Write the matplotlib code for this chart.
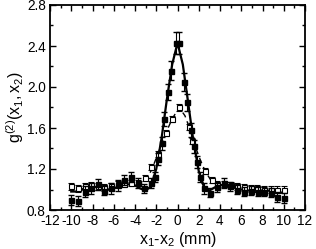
import numpy as np
import matplotlib
matplotlib.use("Agg")
from matplotlib import pyplot as plt
from matplotlib.ticker import MultipleLocator

plt.rcParams["font.family"] = ["Liberation Sans", "DejaVu Sans"]
plt.rcParams["mathtext.fontset"] = "custom"
plt.rcParams["mathtext.rm"] = "Liberation Sans"
plt.rcParams["mathtext.it"] = "Liberation Sans"

# filled squares (measured)
filled_x = [-10.0, -9.375, -8.75, -8.125, -7.5, -6.875, -6.25, -5.625, -5.0, -4.375,
            -3.75, -3.125, -2.5, -2.1, -1.8, -1.5, -1.25, -0.92, -0.61, -0.15,
            0.15, 0.6, 0.9, 1.23, 1.55, 1.85, 2.15, 2.5, 3.1, 3.7, 4.4, 4.9,
            5.6, 6.3, 6.9, 7.55, 8.15, 8.8, 9.4, 10.0]
filled_y = [0.90, 0.89, 0.98, 1.01, 1.05, 0.99, 1.01, 1.04, 1.09, 1.12,
            1.06, 1.01, 1.06, 1.12, 1.30, 1.45, 1.69, 1.95, 2.16, 2.43,
            2.43, 2.05, 1.85, 1.58, 1.42, 1.27, 1.12, 1.01, 0.97, 1.02, 1.06, 1.03,
            1.00, 0.98, 0.99, 0.98, 0.98, 0.97, 0.93, 0.92]
filled_err = [0.05, 0.05, 0.05, 0.05, 0.05, 0.04, 0.05, 0.05, 0.05, 0.05,
              0.05, 0.04, 0.05, 0.05, 0.06, 0.06, 0.07, 0.08, 0.09, 0.11,
              0.11, 0.09, 0.08, 0.07, 0.06, 0.06, 0.05, 0.05, 0.04, 0.04, 0.05, 0.04,
              0.04, 0.04, 0.04, 0.04, 0.04, 0.04, 0.05, 0.05]

# open squares
open_x = [-10.0, -9.375, -8.75, -8.125, -7.5, -6.875, -6.25, -5.625, -5.0, -4.375,
          -3.75, -3.05, -2.45, -1.8, -1.08, -0.52, 0.16, 1.1, 1.35, 2.62,
          3.2, 3.75, 4.4, 5.0, 5.6, 6.25, 6.9, 7.5, 8.15, 8.8, 9.4, 10.0]
open_y = [1.03, 1.01, 1.03, 1.04, 1.03, 1.02, 1.03, 1.05, 1.05, 1.06,
          1.06, 1.11, 1.22, 1.35, 1.55, 1.69, 1.80, 1.61, 1.47, 1.18,
          1.09, 1.05, 1.05, 1.04, 1.03, 1.02, 1.01, 1.01, 1.00, 1.00, 1.00, 1.00]
open_err = [0.03] * len(open_x)

# solid curve
line_x = [-10, -9.5, -9, -8.5, -8, -7.5, -7, -6.5, -6, -5.5, -5, -4.5, -4, -3.5,
          -3, -2.5, -2, -1.5, -1, -0.5, 0, 0.5, 1, 1.5, 2, 2.5, 3, 3.5, 4, 4.5,
          5, 5.5, 6, 6.5, 7, 7.5, 8, 8.5, 9, 9.5, 10]
line_y = [0.98, 0.98, 1.00, 1.02, 1.03, 1.02, 1.01, 1.00, 1.01, 1.03, 1.05, 1.05, 1.04, 1.01,
          0.99, 1.03, 1.20, 1.50, 1.88, 2.22, 2.43, 2.22, 1.85, 1.47, 1.18, 1.02, 0.99, 1.02, 1.04, 1.05,
          1.04, 1.02, 1.00, 0.99, 0.99, 0.99, 0.99, 0.99, 0.98, 0.97, 0.97]

# dashed curve through the open squares near the centre
dash_x = [-3.0, -2.4, -1.8, -1.1, -0.5, 0.16, 0.7, 1.2, 1.6, 2.1, 2.6, 3.2]
dash_y = [1.08, 1.20, 1.36, 1.55, 1.69, 1.80, 1.72, 1.58, 1.44, 1.30, 1.18, 1.08]

fig = plt.figure(figsize=(3.16, 2.49), dpi=100)
ax = fig.add_axes([50 / 316, 1 - 210 / 249, 255 / 316, 205 / 249])

ax.plot(line_x, line_y, color="black", lw=1.6, zorder=3)
ax.plot(dash_x, dash_y, color="black", lw=1.0, ls=(0, (4, 3)), zorder=3)
ax.errorbar(open_x, open_y, yerr=open_err, fmt="s", mfc="white", mec="black",
            ms=3.6, mew=0.8, ecolor="black", elinewidth=0.8, capsize=2, zorder=4)
ax.errorbar(filled_x, filled_y, yerr=filled_err, fmt="s", color="black",
            ms=3.6, ecolor="black", elinewidth=0.8, capsize=2, zorder=5)

ax.set_xlim(-12, 12)
ax.set_ylim(0.8, 2.8)
ax.xaxis.set_major_locator(MultipleLocator(2))
ax.xaxis.set_minor_locator(MultipleLocator(1))
ax.yaxis.set_major_locator(MultipleLocator(0.4))
ax.yaxis.set_minor_locator(MultipleLocator(0.2))
ax.tick_params(which="both", direction="in", top=True, right=True, labelsize=9.8, width=1.0)
ax.tick_params(which="major", length=4, pad=3)
ax.tick_params(which="minor", length=2)
for s in ax.spines.values():
    s.set_linewidth(1.3)

ax.set_xticklabels([f"{int(v)}" for v in ax.get_xticks()])
ax.set_yticklabels([f"{v:.1f}" for v in ax.get_yticks()])

ax.set_xlabel(r"$\mathregular{x_1\text{-}x_2}$ (mm)", fontsize=11.5, labelpad=1)
ax.set_ylabel(r"$\mathregular{g^{(2)}(x_1,x_2)}$", fontsize=11.5, labelpad=1)

fig.savefig("out.png", dpi=100)
